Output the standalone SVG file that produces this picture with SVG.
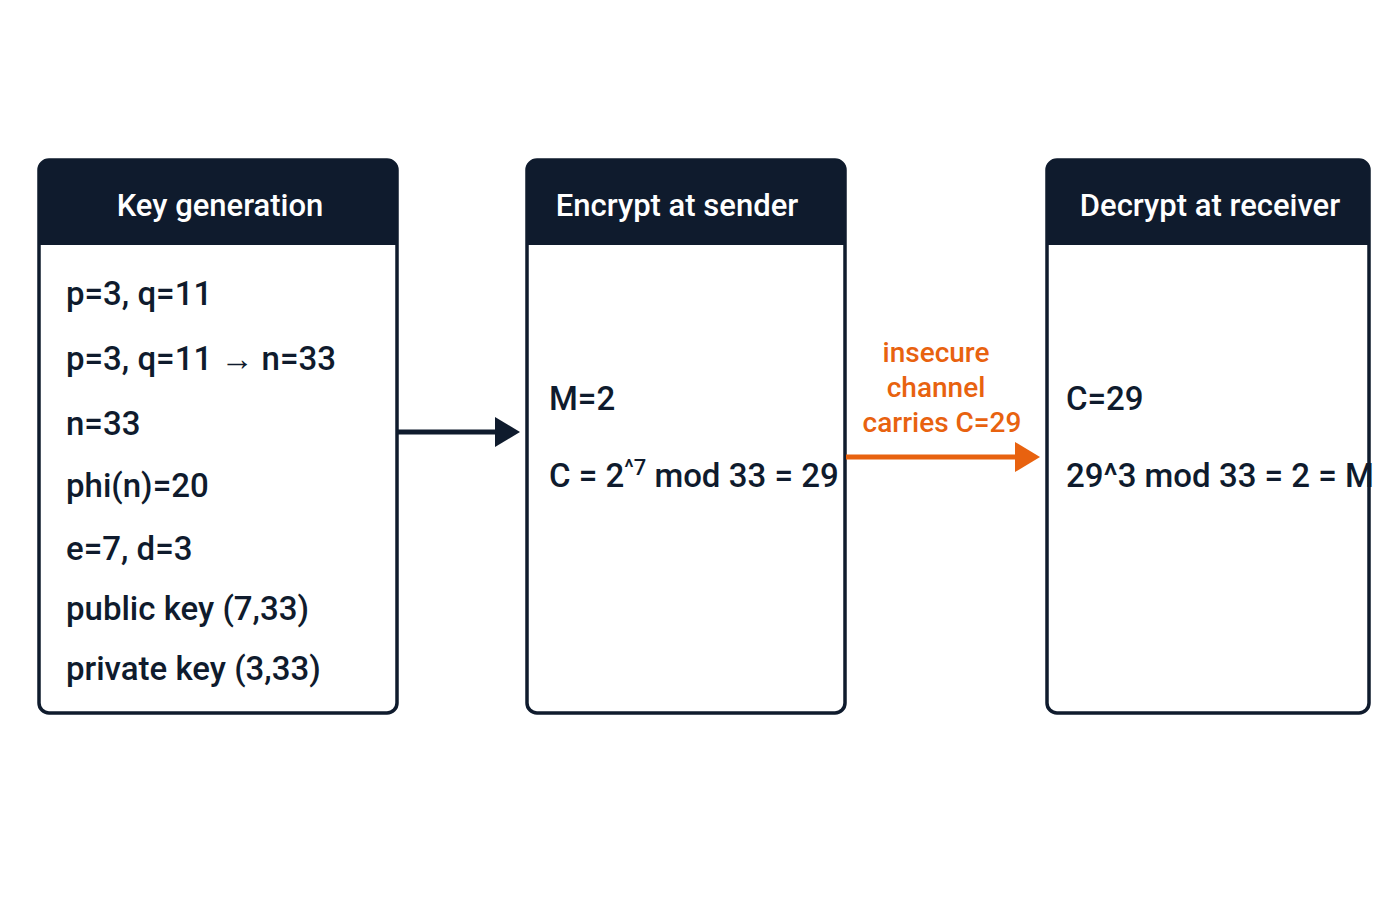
<svg xmlns="http://www.w3.org/2000/svg" width="1400" height="900" viewBox="0 0 1400 900">
<style>
.box{fill:#fff;stroke:#0f1b2d;stroke-width:3.5}
.hd{fill:#0f1b2d}
.ht{font-family:Roboto,"Liberation Sans",sans-serif;font-weight:500;font-size:31px;fill:#fff;text-anchor:middle}
.t{font-family:Roboto,"Liberation Sans",sans-serif;font-weight:500;font-size:33px;fill:#0f1b2d}
.o{font-family:Roboto,"Liberation Sans",sans-serif;font-weight:500;font-size:28px;fill:#e8620f;text-anchor:middle}
</style>
<defs>
<marker id="ad" markerWidth="5" markerHeight="6" refX="1" refY="3" orient="auto"><path d="M0,0L5,3L0,6Z" fill="#0f1b2d"/></marker>
<marker id="ao" markerWidth="5" markerHeight="6" refX="1" refY="3" orient="auto"><path d="M0,0L5,3L0,6Z" fill="#e8620f"/></marker>
</defs>
<rect width="1400" height="900" fill="#fff"/>
<g id="keygen">
<rect class="box" x="39" y="160" width="358" height="553" rx="10"/>
<path class="hd" d="M49,160H387A10,10 0 0 1 397,170V245H39V170A10,10 0 0 1 49,160Z"/>
<text class="ht" x="220" y="216">Key generation</text>
<text class="t" x="66" y="305">p=3, q=11</text>
<text class="t" x="66" y="370">p=3, q=11 → n=33</text>
<text class="t" x="66" y="435">n=33</text>
<text class="t" x="66" y="497">phi(n)=20</text>
<text class="t" x="66" y="560">e=7, d=3</text>
<text class="t" x="66" y="620">public key (7,33)</text>
<text class="t" x="66" y="680">private key (3,33)</text>
</g>
<g id="encrypt">
<rect class="box" x="527" y="160" width="318" height="553" rx="10"/>
<path class="hd" d="M537,160H835A10,10 0 0 1 845,170V245H527V170A10,10 0 0 1 537,160Z"/>
<text class="ht" x="677" y="216">Encrypt at sender</text>
<text class="t" x="549" y="410">M=2</text>
<text class="t" x="549" y="487">C = 2<tspan dy="-12" font-size="22">^7</tspan><tspan dy="12"> mod 33 = 29</tspan></text>
</g>
<g id="decrypt">
<rect class="box" x="1047" y="160" width="322" height="553" rx="10"/>
<path class="hd" d="M1057,160H1359A10,10 0 0 1 1369,170V245H1047V170A10,10 0 0 1 1057,160Z"/>
<text class="ht" x="1210" y="216">Decrypt at receiver</text>
<text class="t" x="1066" y="410">C=29</text>
<text class="t" x="1066" y="487">29^3 mod 33 = 2 = M</text>
</g>
<g id="connectors">
<line x1="397" y1="432" x2="500" y2="432" stroke="#0f1b2d" stroke-width="5" marker-end="url(#ad)"/>
<line x1="846" y1="457" x2="1020" y2="457" stroke="#e8620f" stroke-width="5" marker-end="url(#ao)"/>
<text class="o" x="936" y="362">insecure</text>
<text class="o" x="936" y="397">channel</text>
<text class="o" x="942" y="432">carries C=29</text>
</g>
</svg>
